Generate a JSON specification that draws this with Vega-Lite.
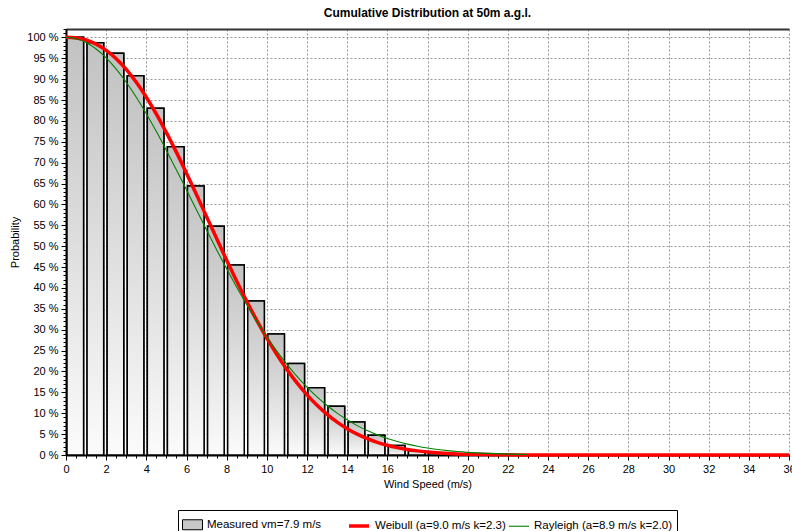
{
  "$schema": "https://vega.github.io/schema/vega-lite/v6.json",
  "width": 723,
  "height": 426,
  "autosize": {"type": "none"},
  "padding": {"left": 66, "top": 29, "right": 3, "bottom": 76},
  "background": "white",
  "title": {"text": "Cumulative Distribution at 50m a.g.l.", "font": "Liberation Sans", "fontSize": 12, "fontWeight": "bold", "color": "black", "offset": 8.5, "anchor": "middle"},
  "datasets": {
    "bars": [
      {"lo": 0, "hi": 1, "p": 100}, {"lo": 1, "hi": 2, "p": 98.7}, {"lo": 2, "hi": 3, "p": 96.2},
      {"lo": 3, "hi": 4, "p": 90.8}, {"lo": 4, "hi": 5, "p": 83.0}, {"lo": 5, "hi": 6, "p": 73.8},
      {"lo": 6, "hi": 7, "p": 64.4}, {"lo": 7, "hi": 8, "p": 54.8}, {"lo": 8, "hi": 9, "p": 45.5},
      {"lo": 9, "hi": 10, "p": 36.9}, {"lo": 10, "hi": 11, "p": 29.0}, {"lo": 11, "hi": 12, "p": 21.9},
      {"lo": 12, "hi": 13, "p": 16.1}, {"lo": 13, "hi": 14, "p": 11.7}, {"lo": 14, "hi": 15, "p": 7.9},
      {"lo": 15, "hi": 16, "p": 4.7}, {"lo": 16, "hi": 17, "p": 2.3}, {"lo": 17, "hi": 18, "p": 1.0},
      {"lo": 18, "hi": 19, "p": 0.4}, {"lo": 19, "hi": 20, "p": 0.15}
    ],
    "weibull": [
      {"v": 0, "p": 100}, {"v": 0.5, "p": 99.87}, {"v": 1, "p": 99.36}, {"v": 1.5, "p": 98.39}, {"v": 2, "p": 96.9},
      {"v": 2.5, "p": 94.88}, {"v": 3, "p": 92.32}, {"v": 3.5, "p": 89.23}, {"v": 4, "p": 85.65}, {"v": 4.5, "p": 81.62},
      {"v": 5, "p": 77.2}, {"v": 5.5, "p": 72.46}, {"v": 6, "p": 67.47}, {"v": 6.5, "p": 62.31}, {"v": 7, "p": 57.07},
      {"v": 7.5, "p": 51.82}, {"v": 8, "p": 46.64}, {"v": 8.5, "p": 41.61}, {"v": 9, "p": 36.79}, {"v": 9.5, "p": 32.23},
      {"v": 10, "p": 27.97}, {"v": 10.5, "p": 24.04}, {"v": 11, "p": 20.47}, {"v": 11.5, "p": 17.25}, {"v": 12, "p": 14.4},
      {"v": 12.5, "p": 11.9}, {"v": 13, "p": 9.73}, {"v": 13.5, "p": 7.88}, {"v": 14, "p": 6.31}, {"v": 14.5, "p": 5.0},
      {"v": 15, "p": 3.92}, {"v": 15.5, "p": 3.04}, {"v": 16, "p": 2.34}, {"v": 16.5, "p": 1.77}, {"v": 17, "p": 1.33},
      {"v": 17.5, "p": 0.99}, {"v": 18, "p": 0.73}, {"v": 19, "p": 0.38}, {"v": 20, "p": 0.19}, {"v": 21, "p": 0.09},
      {"v": 22, "p": 0.04}, {"v": 23, "p": 0.02}, {"v": 24, "p": 0.01}, {"v": 26, "p": 0}, {"v": 36, "p": 0}
    ],
    "rayleigh": [
      {"v": 0, "p": 100}, {"v": 0.5, "p": 99.68}, {"v": 1, "p": 98.75}, {"v": 1.5, "p": 97.2}, {"v": 2, "p": 95.08},
      {"v": 2.5, "p": 92.41}, {"v": 3, "p": 89.26}, {"v": 3.5, "p": 85.67}, {"v": 4, "p": 81.71}, {"v": 4.5, "p": 77.44},
      {"v": 5, "p": 72.93}, {"v": 5.5, "p": 68.26}, {"v": 6, "p": 63.48}, {"v": 6.5, "p": 58.66}, {"v": 7, "p": 53.87},
      {"v": 7.5, "p": 49.16}, {"v": 8, "p": 44.57}, {"v": 8.5, "p": 40.17}, {"v": 9, "p": 35.96}, {"v": 9.5, "p": 32.0},
      {"v": 10, "p": 28.3}, {"v": 10.5, "p": 24.86}, {"v": 11, "p": 21.71}, {"v": 11.5, "p": 18.83}, {"v": 12, "p": 16.24},
      {"v": 12.5, "p": 13.91}, {"v": 13, "p": 11.84}, {"v": 13.5, "p": 10.02}, {"v": 14, "p": 8.42}, {"v": 14.5, "p": 7.03},
      {"v": 15, "p": 5.84}, {"v": 15.5, "p": 4.82}, {"v": 16, "p": 3.95}, {"v": 16.5, "p": 3.21}, {"v": 17, "p": 2.6},
      {"v": 17.5, "p": 2.09}, {"v": 18, "p": 1.67}, {"v": 18.5, "p": 1.33}, {"v": 19, "p": 1.05}, {"v": 19.5, "p": 0.82},
      {"v": 20, "p": 0.64}, {"v": 21, "p": 0.38}, {"v": 22, "p": 0.22}, {"v": 23, "p": 0.13}
    ]
  },
  "resolve": {"axis": {"x": "independent", "y": "independent"}},
  "layer": [
    {
      "data": {"name": "bars"},
      "mark": {"type": "bar", "strokeWidth": 1.5, "xOffset": 1, "x2Offset": -2.5},
      "encoding": {
        "x": {"field": "lo", "type": "quantitative", "scale": {"domain": [0, 36], "nice": false, "zero": false},
          "axis": {"values": [0,2,4,6,8,10,12,14,16,18,20,22,24,26,28,30,32,34,36], "title": "Wind Speed (m/s)", "grid": true,
            "gridColor": "#999", "gridDash": [2, 2], "gridWidth": 1, "tickSize": 5, "tickColor": "black", "domainColor": "black", "domainWidth": 2,
            "labelFlush": false, "labelOverlap": false, "labelBound": false, "labelFont": "Liberation Sans", "labelFontSize": 11, "labelColor": "black", "labelPadding": 3,
            "titleFont": "Liberation Sans", "titleFontSize": 11, "titleFontWeight": "normal", "titleColor": "black", "titlePadding": 4}},
        "x2": {"field": "hi"},
        "y": {"field": "p", "type": "quantitative", "scale": {"domain": [0, 102], "nice": false},
          "axis": {"values": [0,5,10,15,20,25,30,35,40,45,50,55,60,65,70,75,80,85,90,95,100], "labelExpr": "datum.value + ' %'", "title": "Probability", "grid": true,
            "gridColor": "#999", "gridDash": [2, 2], "gridWidth": 1, "tickSize": 5, "tickColor": "black", "domainColor": "black", "domainWidth": 2,
            "labelOverlap": false, "labelFont": "Liberation Sans", "labelFontSize": 11, "labelColor": "black", "labelPadding": 3,
            "titleFont": "Liberation Sans", "titleFontSize": 11, "titleFontWeight": "normal", "titleColor": "black", "titlePadding": 6}},
        "y2": {"datum": 0},
        "stroke": {"datum": "Measured vm=7.9 m/s", "type": "nominal",
          "scale": {"domain": ["Measured vm=7.9 m/s", ""], "range": ["#000000", "transparent"]},
          "legend": {"title": null, "orient": "none", "legendX": 112, "legendY": 481, "direction": "horizontal",
            "strokeColor": "black", "fillColor": null, "padding": 4, "columnPadding": 324, "symbolSize": 400, "symbolOffset": 0,
            "symbolType": "M-1,-0.5H1V0.5H-1Z", "symbolStrokeWidth": 1,
            "labelFont": "Liberation Sans", "labelFontSize": 11.5, "labelColor": "black", "labelOffset": 4, "labelLimit": 0}},
        "fill": {"datum": "Measured vm=7.9 m/s", "type": "nominal",
          "scale": {"domain": ["Measured vm=7.9 m/s", ""], "range": ["#c8c8c8", "transparent"]},
          "legend": {"title": null, "orient": "none", "legendX": 112, "legendY": 481, "direction": "horizontal",
            "strokeColor": "black", "fillColor": null, "padding": 4, "columnPadding": 324, "symbolSize": 400, "symbolOffset": 0,
            "symbolType": "M-1,-0.5H1V0.5H-1Z", "symbolStrokeWidth": 1,
            "labelFont": "Liberation Sans", "labelFontSize": 11.5, "labelColor": "black", "labelOffset": 4, "labelLimit": 0}}
      }
    },
    {
      "data": {"name": "bars"},
      "mark": {"type": "bar", "stroke": "black", "strokeWidth": 1.5, "xOffset": 1, "x2Offset": -2.5,
        "fill": {"gradient": "linear", "x1": 0, "y1": 0, "x2": 0, "y2": 1, "stops": [{"offset": 0, "color": "#c2c2c2"}, {"offset": 1, "color": "#fbfbfb"}]}},
      "encoding": {
        "x": {"field": "lo", "type": "quantitative",
          "axis": {"values": [0,0.5,1,1.5,2,2.5,3,3.5,4,4.5,5,5.5,6,6.5,7,7.5,8,8.5,9,9.5,10,10.5,11,11.5,12,12.5,13,13.5,14,14.5,15,15.5,16,16.5,17,17.5,18,18.5,19,19.5,20,20.5,21,21.5,22,22.5,23,23.5,24,24.5,25,25.5,26,26.5,27,27.5,28,28.5,29,29.5,30,30.5,31,31.5,32,32.5,33,33.5,34,34.5,35,35.5,36],
            "orient": "bottom", "labels": false, "grid": false, "domain": false, "tickSize": 3, "tickColor": "black", "title": null}},
        "x2": {"field": "hi"},
        "y": {"field": "p", "type": "quantitative",
          "axis": {"values": [0,1,2,3,4,5,6,7,8,9,10,11,12,13,14,15,16,17,18,19,20,21,22,23,24,25,26,27,28,29,30,31,32,33,34,35,36,37,38,39,40,41,42,43,44,45,46,47,48,49,50,51,52,53,54,55,56,57,58,59,60,61,62,63,64,65,66,67,68,69,70,71,72,73,74,75,76,77,78,79,80,81,82,83,84,85,86,87,88,89,90,91,92,93,94,95,96,97,98,99,100,101,102],
            "orient": "left", "labels": false, "grid": false, "domain": false, "tickSize": 3, "tickColor": "black", "title": null}},
        "y2": {"datum": 0}
      }
    },
    {
      "data": {"name": "weibull"},
      "mark": {"type": "line", "interpolate": "monotone"},
      "encoding": {
        "x": {"field": "v", "type": "quantitative",
          "axis": {"orient": "top", "domain": true, "domainColor": "#333", "domainWidth": 2, "ticks": false, "labels": false, "grid": false, "title": null}},
        "y": {"field": "p", "type": "quantitative", "axis": null},
        "color": {"datum": "Weibull (a=9.0 m/s k=2.3)", "type": "nominal",
          "scale": {"domain": ["Weibull (a=9.0 m/s k=2.3)", "Rayleigh (a=8.9 m/s k=2.0)"], "range": ["#ff0000", "#008000"]},
          "legend": {"title": null, "orient": "none", "legendX": 281, "legendY": 485, "direction": "horizontal",
            "padding": 0, "columnPadding": 0, "symbolSize": 400, "symbolOffset": 0, "symbolType": "stroke",
            "labelFont": "Liberation Sans", "labelFontSize": 11.5, "labelColor": "black", "labelOffset": 4, "labelLimit": 0}},
        "strokeWidth": {"datum": "Weibull (a=9.0 m/s k=2.3)", "type": "nominal",
          "scale": {"domain": ["Weibull (a=9.0 m/s k=2.3)", "Rayleigh (a=8.9 m/s k=2.0)"], "range": [3.5, 1.1]},
          "legend": {"title": null, "orient": "none", "legendX": 281, "legendY": 485, "direction": "horizontal",
            "padding": 0, "columnPadding": 0, "symbolSize": 400, "symbolOffset": 0, "symbolType": "stroke",
            "labelFont": "Liberation Sans", "labelFontSize": 11.5, "labelColor": "black", "labelOffset": 4, "labelLimit": 0}}
      }
    },
    {
      "data": {"name": "rayleigh"},
      "mark": {"type": "line", "interpolate": "monotone"},
      "encoding": {
        "x": {"field": "v", "type": "quantitative", "axis": null},
        "y": {"field": "p", "type": "quantitative", "axis": null},
        "color": {"datum": "Rayleigh (a=8.9 m/s k=2.0)", "type": "nominal"},
        "strokeWidth": {"datum": "Rayleigh (a=8.9 m/s k=2.0)", "type": "nominal"}
      }
    }
  ],
  "config": {"view": {"stroke": null}, "font": "Liberation Sans"}
}
